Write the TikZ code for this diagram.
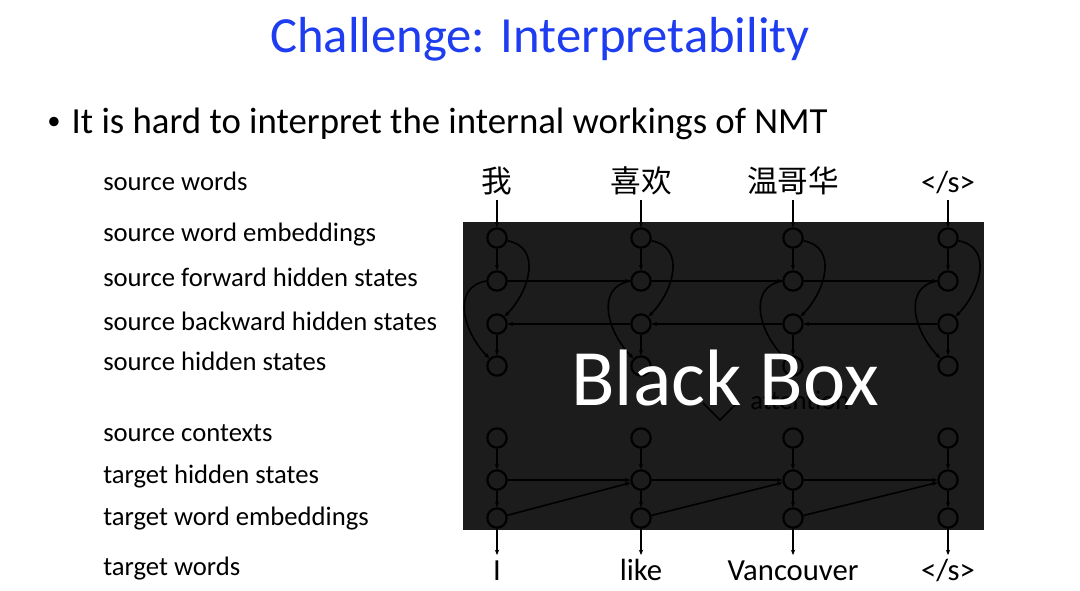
\documentclass[tikz,border=0pt]{standalone}
\usepackage{fontspec}
\setmainfont{Carlito}
\newfontfamily\cjk{Noto Sans CJK SC}
\usetikzlibrary{arrows.meta}
\definecolor{titleblue}{RGB}{30,60,240}
\definecolor{boxgray}{RGB}{28,28,28}
\tikzset{>={Stealth[length=4pt,width=3.2pt]}}
\tikzset{unit/.style={circle,draw,line width=1.6pt,minimum size=14.5pt,inner sep=0pt},
  lab/.style={anchor=base west,inner sep=0pt,font=\fontsize{20}{24}\selectfont},
  word/.style={anchor=base,font=\fontsize{23}{27}\selectfont,
    text height=16.5pt,text depth=4pt,inner sep=2pt},
  link/.style={->,line width=1.2pt}}

\begin{document}
\begin{tikzpicture}[x=0.75pt,y=-0.75pt]
\useasboundingbox (0,0) rectangle (1080,590);
\node[anchor=base,text=titleblue,font=\fontsize{38}{44}\selectfont]
  (title) at (540,52) {Challenge: Interpretability};
\node[anchor=base west,inner sep=0pt,font=\fontsize{27.6}{32}\selectfont]
  (point) at (47,133) {\raisebox{0.1em}{\fontsize{20}{20}\selectfont\textbullet}\hspace{0.3em}It is hard to interpret the internal workings of NMT};
% row labels
\foreach \y/\t [count=\k] in {190/source words,241.7/source word embeddings,
    286.7/source forward hidden states,330/source backward hidden states,
    370/source hidden states,441.7/source contexts,483/target hidden states,
    525/target word embeddings,575/target words}
  \node[lab] (lab\k) at (103,\y) {\t};
\fill[boxgray] (463,222) rectangle (984,530);
% encoder and decoder columns
\foreach \i/\x in {1/497,2/641,3/793,4/948} {
  \node[unit] (e\i) at (\x,238) {};
  \node[unit] (f\i) at (\x,281) {};
  \node[unit] (b\i) at (\x,324) {};
  \node[unit] (h\i) at (\x,366) {};
  \node[unit] (c\i) at (\x,438) {};
  \node[unit] (t\i) at (\x,480) {};
  \node[unit] (y\i) at (\x,518) {};
  \draw[link] (e\i) -- (f\i);
  \draw[link] (b\i) -- (h\i);
  \draw[link] (c\i) -- (t\i);
  \draw[link] (t\i) -- (y\i);
  \draw[link] (e\i.-15) to[out=-10,in=45,looseness=1.2] (b\i.north east);
  \draw[link] (f\i.west) to[out=190,in=135,looseness=1.2] (h\i.north west);
}
\foreach \i/\j in {1/2,2/3,3/4} {
  \draw[link] (f\i) -- (f\j);
  \draw[link] (b\j) -- (b\i);
  \draw[link] (t\i) -- (t\j);
  \draw[link] (y\i) -- (t\j);
}
\node[anchor=base west,inner sep=0pt,font=\fontsize{20}{24}\selectfont]
  (att) at (750,409) {attention};
\draw[line width=1.2pt] (703,403) -- (720,420) -- (737,403);
\node[anchor=base,text=white,font=\fontsize{60}{70}\selectfont]
  (bb) at (725,405) {Black Box};
% words in and out
\node[word] (w1) at (497,192) {\cjk 我};
\node[word] (w2) at (641,192) {\cjk 喜欢};
\node[word] (w3) at (793,192) {\cjk 温哥华};
\node[word] (w4) at (948,192) {</s>};
\node[word] (o1) at (497,580) {I};
\node[word] (o2) at (641,580) {like};
\node[word] (o3) at (793,580) {Vancouver};
\node[word] (o4) at (948,580) {</s>};
\foreach \i in {1,...,4} {
  \draw[link] (w\i) -- (e\i);
  \draw[link] (y\i) -- (o\i);
}
\end{tikzpicture}
\end{document}
